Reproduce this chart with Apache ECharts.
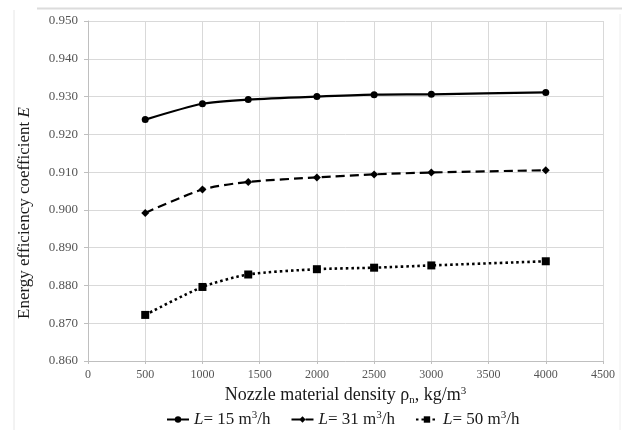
<!DOCTYPE html>
<html>
<head>
<meta charset="utf-8">
<script src="https://cdn.jsdelivr.net/npm/echarts@6/dist/echarts.min.js"></script>
<style>
  html, body { margin: 0; padding: 0; background: #fff; }
  #chart { width: 622px; height: 430px; }
</style>
</head>
<body>
<div id="chart"></div>
<script>
// nozzle density, kg/m3
const density = [500, 1000, 1400, 2000, 2500, 3000, 4000];
// energy efficiency coefficient for each flow rate
const e15 = [0.9239, 0.9281, 0.9292, 0.9300, 0.9305, 0.9306, 0.9311];
const e31 = [0.8992, 0.9054, 0.9074, 0.9086, 0.9094, 0.9099, 0.9105];
const e50 = [0.8722, 0.8796, 0.8829, 0.8843, 0.8847, 0.8853, 0.8864];
const seriesNames = ['L15', 'L31', 'L50'];
const legendText = {
  L15: '{i|L}= 15 m{sup|3}/h',
  L31: '{i|L}= 31 m{sup|3}/h',
  L50: '{i|L}= 50 m{sup|3}/h'
};

const serif = 'Liberation Serif';
const chart = echarts.init(document.getElementById('chart'));

function pairs(ys) {
  return density.map((x, i) => [x, ys[i]]);
}

function lineSeries(name, ys, type, width, symbol, size) {
  return {
    name: name,
    type: 'line',
    data: pairs(ys),
    smooth: 0.25,
    symbol: symbol,
    symbolSize: size,
    itemStyle: { color: '#000' },
    lineStyle: { color: '#000', width: width, type: type },
    emphasis: { disabled: true },
    animation: false
  };
}

chart.setOption({
  backgroundColor: '#fff',
  animation: false,
  grid: { left: 88, right: 19, top: 21, bottom: 69 },
  xAxis: {
    type: 'value',
    min: 0, max: 4500, interval: 500,
    name: 'Nozzle material density ρ{sub|n}, kg/m{sup|3}',
    nameLocation: 'middle',
    nameGap: 20,
    nameTextStyle: {
      fontFamily: serif, fontSize: 18, color: '#1a1a1a',
      rich: {
        sub: { fontFamily: serif, fontSize: 11, color: '#1a1a1a', padding: [10, 0, 0, 0] },
        sup: { fontFamily: serif, fontSize: 11, color: '#1a1a1a', padding: [0, 0, 8, 0] }
      }
    },
    axisLine: { lineStyle: { color: '#bfbfbf' } },
    axisTick: { show: true, length: 3, lineStyle: { color: '#bfbfbf' } },
    axisLabel: {
      fontFamily: serif, fontSize: 12, color: '#555', margin: 8,
      formatter: v => String(v)
    },
    splitLine: { show: true, lineStyle: { color: '#d9d9d9' } }
  },
  yAxis: {
    type: 'value',
    min: 0.86, max: 0.95, interval: 0.01,
    axisLine: { show: true, lineStyle: { color: '#bfbfbf' } },
    axisTick: { show: true, length: 4, lineStyle: { color: '#bfbfbf' } },
    axisLabel: {
      fontFamily: serif, fontSize: 13, color: '#555', margin: 10,
      formatter: v => v.toFixed(3)
    },
    splitLine: { show: true, lineStyle: { color: '#d9d9d9' } }
  },
  legend: {
    data: seriesNames,
    left: 161,
    top: 405,
    itemWidth: 22,
    itemHeight: 8,
    itemGap: 20,
    formatter: n => legendText[n],
    textStyle: {
      fontFamily: serif, fontSize: 17, color: '#1a1a1a',
      rich: {
        i: { fontFamily: serif, fontSize: 17, fontStyle: 'italic', color: '#1a1a1a' },
        sup: { fontFamily: serif, fontSize: 11, color: '#1a1a1a', padding: [0, 0, 8, 0] }
      }
    }
  },
  graphic: [
    {
      type: 'text',
      x: 25, y: 213,
      rotation: Math.PI / 2,
      style: {
        text: '{a|Energy efficiency coefficient }{i|E}',
        textAlign: 'center',
        textVerticalAlign: 'middle',
        rich: {
          a: { fontFamily: serif, fontSize: 17, fill: '#1a1a1a' },
          i: { fontFamily: serif, fontSize: 17, fontStyle: 'italic', fill: '#1a1a1a' }
        }
      }
    },
    { type: 'line', shape: { x1: 37, y1: 8.5, x2: 622, y2: 8.5 }, style: { stroke: '#dcdcdc', lineWidth: 2 } },
    { type: 'line', shape: { x1: 14, y1: 10, x2: 14, y2: 430 }, style: { stroke: '#e6e6e6', lineWidth: 1 } },
    { type: 'line', shape: { x1: 620, y1: 14, x2: 620, y2: 430 }, style: { stroke: '#eeeeee', lineWidth: 1 } }
  ],
  series: [
    lineSeries('L15', e15, 'solid', 2.2, 'circle', 7),
    lineSeries('L31', e31, [9, 5], 2.2, 'diamond', 8),
    lineSeries('L50', e50, [2.5, 3], 2.6, 'rect', 8)
  ]
});
</script>
</body>
</html>
